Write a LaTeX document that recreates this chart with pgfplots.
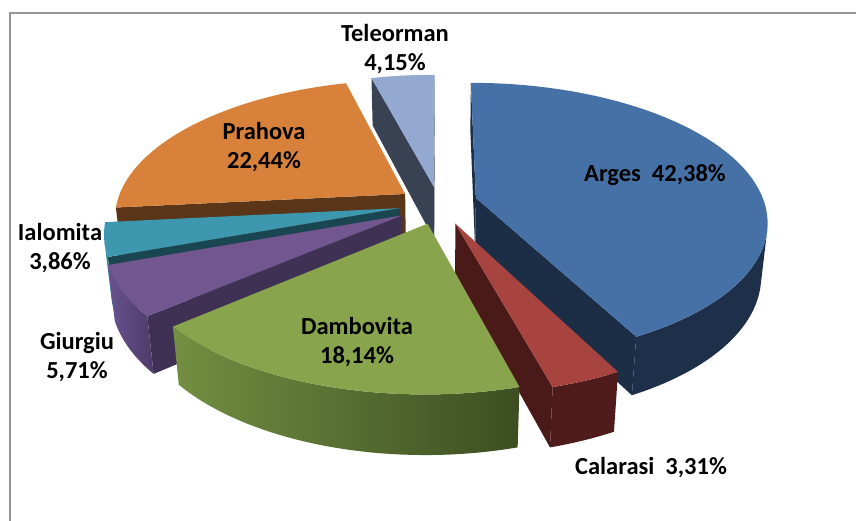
\documentclass[border=0pt]{standalone}
\usepackage{pgfplots}
\pgfplotsset{compat=1.18}
\usepackage{fontspec}
\setmainfont{Carlito}
% shares in percent (Arges first, clockwise from 12 o'clock)
\def\pArges{42.38}
\def\pCalarasi{3.31}
\def\pDambovita{18.14}
\def\pGiurgiu{5.71}
\def\pIalomita{3.86}
\def\pPrahova{22.44}
\def\pTeleorman{4.15}
\definecolor{arges}{HTML}{4571A7}
\definecolor{argesD}{HTML}{1C2D46}
\definecolor{argesW}{HTML}{1E3049}
\definecolor{cal}{HTML}{A8443F}
\definecolor{calD}{HTML}{4A1A19}
\definecolor{calW}{HTML}{4F1C1B}
\definecolor{dam}{HTML}{88A44C}
\definecolor{damWL}{HTML}{728F42}
\definecolor{damWR}{HTML}{3C4E21}
\definecolor{giu}{HTML}{725690}
\definecolor{giuD}{HTML}{3F3153}
\definecolor{giuWL}{HTML}{6A5290}
\definecolor{giuWR}{HTML}{4C3B68}
\definecolor{ial}{HTML}{3D97AF}
\definecolor{ialD}{HTML}{1A4652}
\definecolor{ialW}{HTML}{2F8196}
\definecolor{pra}{HTML}{D8813B}
\definecolor{praD}{HTML}{5A3518}
\definecolor{tel}{HTML}{94A9D0}
\definecolor{telD}{HTML}{394253}
\definecolor{frame}{HTML}{969696}
% top face of a slice: #1 t1, #2 t2, #3 u0, #4 v0, #5 colour
\newcommand\TopFace[5]{%
 \addplot[draw=none, fill=#5, samples at={0,1,...,61}, variable=\t]
  ({PX(#3+(\t<60.5)*sin(tt(\t,#1,#2)), #4+(\t<60.5)*cos(tt(\t,#1,#2)), 0)},
   {PY(#3+(\t<60.5)*sin(tt(\t,#1,#2)), #4+(\t<60.5)*cos(tt(\t,#1,#2)), 0)});
}
% radial cut face: #1 angle, #2 u0, #3 v0, #4 colour
\newcommand\RadFace[4]{%
 \addplot[draw=none, fill=#4, samples at={0,1,2,3}, variable=\t]
  ({PX(#2+(\t>0.5)*(\t<2.5)*sin(#1), #3+(\t>0.5)*(\t<2.5)*cos(#1), -0.22*(\t>1.5))},
   {PY(#2+(\t>0.5)*(\t<2.5)*sin(#1), #3+(\t>0.5)*(\t<2.5)*cos(#1), -0.22*(\t>1.5))});
}
% outer wall: #1 a, #2 b, #3 u0, #4 v0, #5 style
\newcommand\Wall[5]{%
 \addplot[draw=none, #5, samples at={0,1,...,81}, variable=\t]
  ({PX(#3+sin(wt(\t,#1,#2)), #4+cos(wt(\t,#1,#2)), -0.22*(\t>40.5))},
   {PY(#3+sin(wt(\t,#1,#2)), #4+cos(wt(\t,#1,#2)), -0.22*(\t>40.5))});
}
\begin{document}
\begin{tikzpicture}[x=1bp,y=1bp]
\path[use as bounding box] (0,0) rectangle (856,521);
\pgfmathsetmacro\tA{0}
\pgfmathsetmacro\tB{\tA+3.6*\pArges}
\pgfmathsetmacro\tC{\tB+3.6*\pCalarasi}
\pgfmathsetmacro\tD{\tC+3.6*\pDambovita}
\pgfmathsetmacro\tE{\tD+3.6*\pGiurgiu}
\pgfmathsetmacro\tF{\tE+3.6*\pIalomita}
\pgfmathsetmacro\tG{\tF+3.6*\pPrahova}
\pgfmathsetmacro\tH{\tG+3.6*\pTeleorman}
\begin{axis}[at={(0,0)}, anchor=south west, width=856bp, height=521bp,
  scale only axis, xmin=0, xmax=856, ymin=0, ymax=521, y dir=reverse,
  hide axis, clip=false,
  declare function={
    dd(\u,\v,\z)=5.4+0.877*\v-0.48*\z;
    PX(\u,\v,\z)=440+1553*\u/dd(\u,\v,\z);
    PY(\u,\v,\z)=200-1513*(0.48*\v+0.877*\z)/dd(\u,\v,\z);
    tt(\s,\p,\q)=\p+(\q-\p)*min(\s,60)/60;
    wt(\s,\p,\q)=(\s<40.5)*(\p+(\q-\p)*\s/40)+(\s>40.5)*(\q-(\q-\p)*(\s-41)/40);
  }]
% frame
\draw[frame, line width=1.5bp] (axis cs:10,521) -- (axis cs:10,13) -- (axis cs:856,13);
% Teleorman
\RadFace{\tG}{-0.021}{0.097}{telD}
\RadFace{\tH}{-0.021}{0.097}{telD}
\TopFace{\tG}{\tH}{-0.021}{0.097}{tel}
% Prahova
\RadFace{\tF}{-0.122}{0.045}{praD}
\TopFace{\tF}{\tG}{-0.122}{0.045}{pra}
% Ialomita
\RadFace{\tE}{-0.139}{-0.060}{ialD}
\Wall{\tE}{257}{-0.139}{-0.060}{fill=ialW}
\TopFace{\tE}{\tF}{-0.139}{-0.060}{ial}
% Giurgiu
\RadFace{\tD}{-0.129}{-0.112}{giuD}
\Wall{\tD}{\tE}{-0.129}{-0.112}{left color=giuWL, right color=giuWR}
\TopFace{\tD}{\tE}{-0.129}{-0.112}{giu}
% Arges
\RadFace{\tA}{0.125}{0.015}{argesD}
\RadFace{\tB}{0.125}{0.015}{argesD}
\Wall{103}{\tB}{0.125}{0.015}{fill=argesW}
\TopFace{\tA}{\tB}{0.125}{0.015}{arges}
% Calarasi
\RadFace{\tC}{0.052}{-0.171}{calD}
\Wall{\tB}{\tC}{0.052}{-0.171}{fill=calW}
\TopFace{\tB}{\tC}{0.052}{-0.171}{cal}
% Dambovita
\Wall{\tC}{\tD}{-0.042}{-0.171}{left color=damWL, right color=damWR}
\TopFace{\tC}{\tD}{-0.042}{-0.171}{dam}
% labels
\tikzset{lbl/.style={font=\fontsize{24.5bp}{29bp}\selectfont\bfseries, align=center, text=black, inner sep=0pt}}
\node[lbl] at (axis cs:395,49) {Teleorman\\4,15\%};
\node[lbl] at (axis cs:264,147) {Prahova\\22,44\%};
\node[lbl] at (axis cs:655,175) {Arges\ \ 42,38\%};
\node[lbl] at (axis cs:60,248) {Ialomita\\3,86\%};
\node[lbl] at (axis cs:77,357) {Giurgiu\\5,71\%};
\node[lbl] at (axis cs:357,342) {Dambovita\\18,14\%};
\node[lbl] at (axis cs:651,468) {Calarasi\ \ 3,31\%};
\end{axis}
\end{tikzpicture}
\end{document}
